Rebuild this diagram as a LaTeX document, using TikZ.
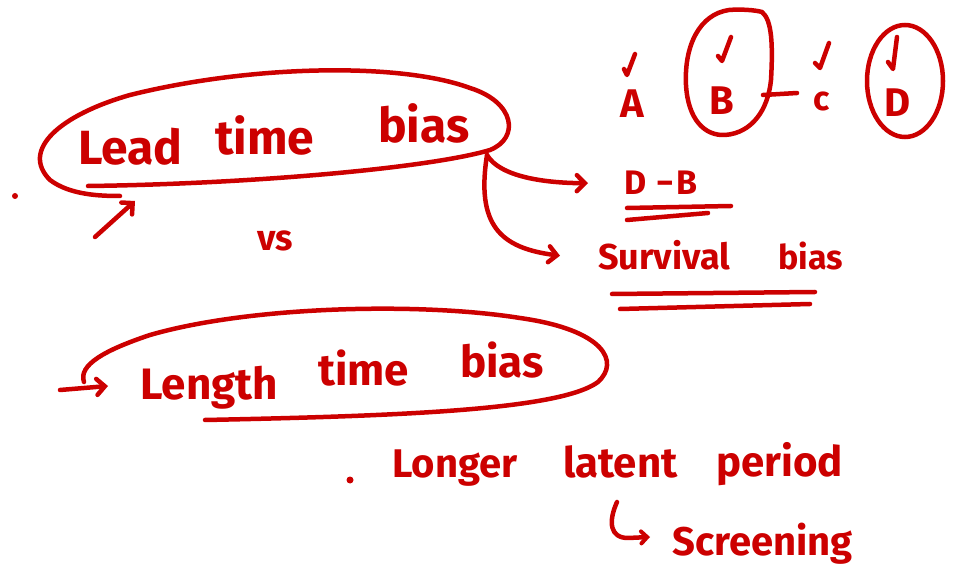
\documentclass[tikz,border=0pt]{standalone}
\usepackage{fontspec}
\setmainfont{Fira Sans}
\usetikzlibrary{arrows.meta,shapes.geometric}
\definecolor{ink}{RGB}{204,0,0}
\begin{document}
\begin{tikzpicture}[x=1pt,y=-1pt,
  pen/.style={draw=ink,line width=4.5pt,line cap=round,line join=round},
  tick pen/.style={draw=ink,line width=4.5pt,line cap=round,line join=round},
  barb/.style={pen,-{Straight Barb[length=8pt,width=16pt,line width=4.5pt,line cap=round]}},
  word/.style={text=ink,inner sep=0pt,anchor=base west},
  letter/.style={text=ink,inner sep=0pt,anchor=center},
  sz/.style={font=\fontsize{#1}{#1}\selectfont\bfseries}]
\useasboundingbox (0,0) rectangle (962,585);

% ---------- A  B - C  D with ticks ----------
\node[letter,sz=40] (A) at (632,104) {A};
\node[letter,sz=40] (B) at (722,101) {B};
\node[letter,sz=34] (C) at (822,101) {c};
\node[letter,sz=40] (D) at (898,103) {D};
\draw[tick pen] (624,69) -- (627,75) -- (635,54);
\draw[tick pen] (718,56) -- (722,61) -- (731,37);
\draw[tick pen] (815,63) -- (820,68) -- (829,43);
\draw[tick pen] (888,62) -- (893,69) -- (897,37);
\draw[pen] (729,10) .. controls (700,14) and (684,45) .. (686,85)
  .. controls (688,120) and (705,136) .. (725,135)
  .. controls (752,133) and (768,110) .. (771,80)
  .. controls (773,45) and (772,20) .. (762,12)
  .. controls (755,10) and (740,9) .. (729,10);
\node[ellipse,minimum width=76pt,minimum height=112pt,draw=ink,line width=4.5pt] (Dring) at (905,81) {};
\coordinate (Bedge) at (763,95);
\coordinate (Cnear) at (797,93);
\draw[pen] (Bedge) -- (Cnear);

% ---------- Lead time bias ----------
\node[word,sz=48] (lead) at (78,165) {Lead};
\node[word,sz=48] (time1) at (215,155) {time};
\node[word,sz=48] (bias1) at (378,143) {bias};
\draw[pen] (88,186) .. controls (250,184) and (430,168) .. (490,150)
  .. controls (520,138) and (515,102) .. (470,88)
  .. controls (400,62) and (250,65) .. (130,95)
  .. controls (60,115) and (20,150) .. (50,180)
  .. controls (70,195) and (100,196) .. (120,196);
\coordinate (lt) at (95,237);
\coordinate (lh) at (135,201);
\draw[barb] (lt) -- (lh);
\fill[ink] (15,196) circle (3pt);
\node[word,sz=36] (vs) at (257,251) {vs};

% ---------- consequences ----------
\coordinate (split) at (487,155);
\node[word,sz=34] (DB) at (624,195) {D\hspace{10pt}−\hspace{3pt}B};
\node[word,sz=36] (surv) at (598,270) {Survival};
\node[word,sz=34] (bias2) at (778,270) {bias};
\draw[barb] (split) .. controls (500,177) and (545,183) .. ([xshift=-36pt]DB.west);
\draw[barb] (split) .. controls (476,225) and (500,248) .. ([xshift=-38pt]surv.west);
\draw[pen] (627,208) -- (731,206);
\draw[pen] (627,220) -- (708,213);
\draw[pen] (612,294) -- (815,292);
\draw[pen] (620,309) -- (810,304);

% ---------- Length time bias ----------
\node[word,sz=44] (length) at (140,400) {Length};
\node[word,sz=44] (time2) at (318,386) {time};
\node[word,sz=44] (bias3) at (460,378) {bias};
\draw[pen] (205,420) .. controls (400,416) and (560,410) .. (598,382)
  .. controls (620,362) and (605,330) .. (520,318)
  .. controls (420,302) and (250,306) .. (150,335)
  .. controls (105,350) and (78,365) .. (84,382);
\coordinate (lent) at (60,390);
\coordinate (lenh) at (108,386);
\draw[barb] (lent) -- (lenh);

% ---------- latent period ----------
\fill[ink] (350,480) circle (3.5pt);
\node[word,sz=40] (longer) at (392,478) {Longer};
\node[word,sz=42] (latent) at (563,478) {latent};
\node[word,sz=42] (period) at (716,476) {period};
\node[word,sz=40] (scr) at (672,555) {Screening};
\coordinate (hook) at (617,502);
\coordinate (hookend) at (650,537);
\draw[pen,-{Straight Barb[length=6pt,width=12pt,line width=4pt,line cap=round]}]
  (hook) .. controls (608,522) and (610,538) .. (628,538) -- (hookend);
\end{tikzpicture}
\end{document}
